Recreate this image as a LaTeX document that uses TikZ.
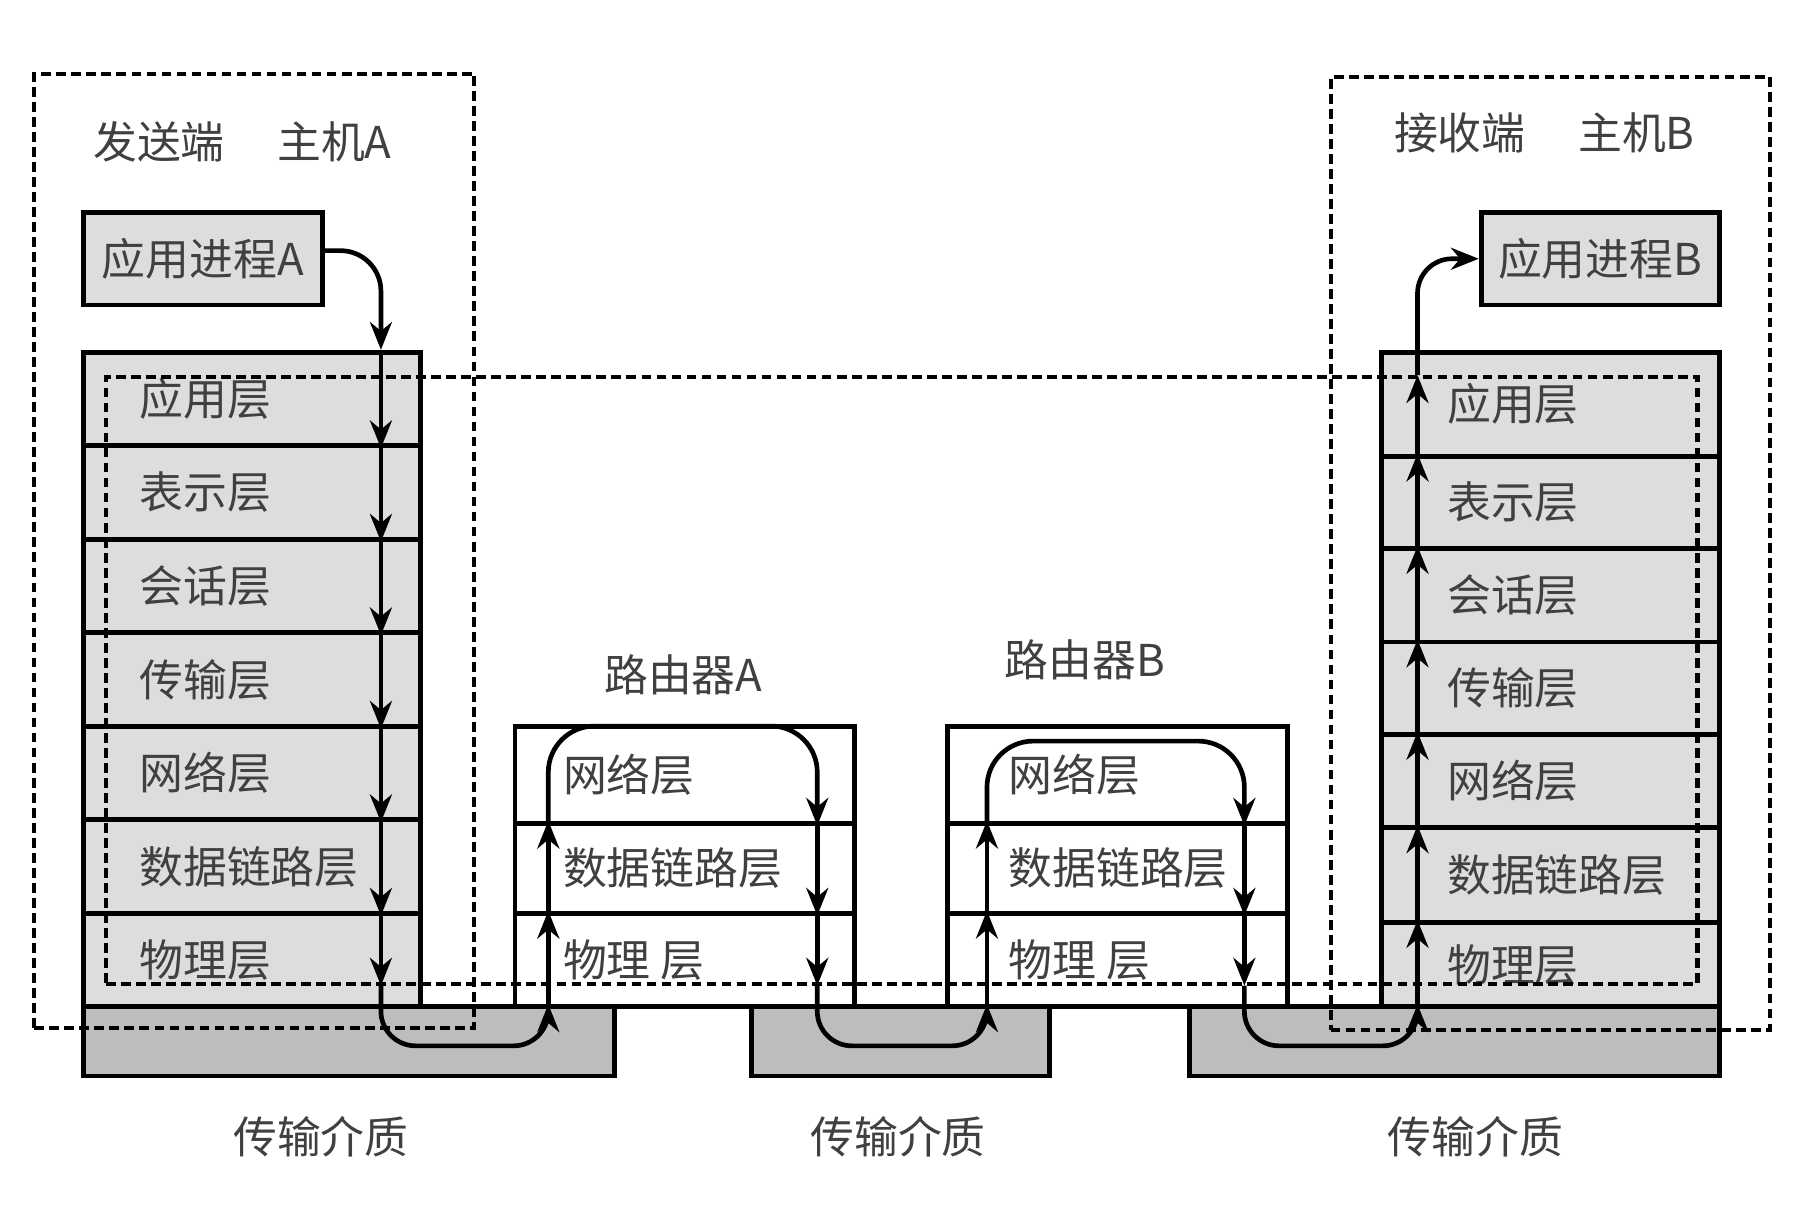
\documentclass[tikz,border=0pt]{standalone}
\usepackage{fontspec}
\newfontfamily\cjk{Noto Sans CJK SC}
\usetikzlibrary{arrows.meta, positioning, calc}

\tikzset{
  box/.style={draw, line width=1.2pt, inner sep=0pt, anchor=north west},
  layer/.style={box, fill=gray!27, minimum width=2.92cm},
  rlayer/.style={box, fill=white, minimum width=2.94cm},
  medium/.style={box, fill=gray!52, minimum height=0.6cm},
  dashbox/.style={draw, line width=1pt, dash pattern=on 2.4pt off 1.3pt, inner sep=0pt, anchor=north west},
  txt/.style={font=\cjk\fontsize{10.8}{13}\selectfont, text=black!75, inner sep=0pt},
  flow/.style={line width=1.15pt, -{Stealth[length=2.4mm, width=1.9mm]}},
  wire/.style={line width=1.15pt, rounded corners=0.3cm},
}

\begin{document}
\begin{tikzpicture}[x=0.01cm, y=-0.01cm]
    \useasboundingbox (0,0) rectangle (1568,1059);

    % Transmission media
    \node[medium, minimum width=4.60cm] (m1) at (70,870) {};
    \node[medium, minimum width=2.58cm] (m2) at (649,870) {};
    \node[medium, minimum width=4.59cm] (m3) at (1028,870) {};
    \node[txt] (mt1) at (278,985) {传输介质};
    \node[txt] (mt2) at (778,985) {传输介质};
    \node[txt] (mt3) at (1278,985) {传输介质};

    % Host A
    \node[txt, anchor=west] (ta) at (80,123) {发送端\hspace{1.2em}主机A};
    \node[box, fill=gray!27, minimum width=2.07cm, minimum height=0.80cm, txt] (pa) at (70,182) {应用进程A};
    \foreach \n/\t [count=\i from 0] in {a1/应用层, a2/表示层, a3/会话层, a4/传输层, a5/网络层, a6/数据链路层, a7/物理层} {
        \node[layer, minimum height=0.81cm] (\n) at (70,{303+81*\i}) {};
        \node[txt, right=0.5cm of \n.west] (\n t) {\t};
    }

    % Routers
    \node[txt] (tra) at (592,585) {路由器A};
    \node[txt] (trb) at (940,572) {路由器B};
    \foreach \n/\t/\y/\h in {ra1/网络层/627/0.84, ra2/数据链路层/711/0.78, ra3/物理 层/789/0.81} {
        \node[rlayer, minimum height=\h cm] (\n) at (444,\y) {};
        \node[txt, right=0.43cm of \n.west] (\n t) {\t};
    }
    \foreach \n/\t/\y/\h in {rb1/网络层/627/0.84, rb2/数据链路层/711/0.78, rb3/物理 层/789/0.81} {
        \node[rlayer, minimum height=\h cm] (\n) at (819,\y) {};
        \node[txt, right=0.54cm of \n.west] (\n t) {\t};
    }

    % Host B
    \node[txt, anchor=west] (tb) at (1207,115) {接收端\hspace{1.2em}主机B};
    \node[box, fill=gray!27, minimum width=2.06cm, minimum height=0.80cm, txt] (pb) at (1281,182) {应用进程B};
    \foreach \n/\t/\y/\h in {b1/应用层/303/0.90, b2/表示层/393/0.80, b3/会话层/473/0.81, b4/传输层/554/0.80, b5/网络层/634/0.81, b6/数据链路层/715/0.82, b7/物理层/797/0.73} {
        \node[layer, minimum height=\h cm] (\n) at (1195,\y) {};
        \node[txt, right=0.58cm of \n.west] (\n t) {\t};
    }

    % Dashed frames
    \node[dashbox, minimum width=3.81cm, minimum height=8.26cm] (hostA) at (28,62) {};
    \node[dashbox, minimum width=3.80cm, minimum height=8.25cm] (hostB) at (1151,65) {};
    \node[dashbox, minimum width=13.78cm, minimum height=5.25cm] (proto) at (90,325) {};

    % Path of the data
    \coordinate (xa) at (330,0);
    \coordinate (xr1) at (475,0);
    \coordinate (xr2) at (708,0);
    \coordinate (xr3) at (855,0);
    \coordinate (xr4) at (1078,0);
    \coordinate (xb) at (1228,0);
    \coordinate (ylow) at (0,906);
    \coordinate (ytopA) at (0,629);
    \coordinate (ytopB) at (0,642);

    % down through host A
    \draw[flow, wire, rounded corners=0.35cm] ([yshift=0.07cm]pa.east) -| (a1.north -| xa);
    \foreach \n in {a1,a2,a3,a4,a5,a6}
        \draw[flow] (\n.north -| xa) -- (\n.south -| xa);
    \draw[flow] (a7.north -| xa) -- (proto.south -| xa);
    \draw[flow, wire] (proto.south -| xa) -- (xa |- ylow) -- (xr1 |- ylow) -- (m1.north -| xr1);

    % router A
    \draw[flow] (m1.north -| xr1) -- (ra3.north -| xr1);
    \draw[flow] (ra2.south -| xr1) -- (ra2.north -| xr1);
    \draw[flow, wire, rounded corners=0.4cm] (ra2.north -| xr1) -- (xr1 |- ytopA) -- (xr2 |- ytopA) -- (ra1.south -| xr2);
    \draw[flow] (ra2.north -| xr2) -- (ra2.south -| xr2);
    \draw[flow] (ra3.north -| xr2) -- (proto.south -| xr2);
    \draw[flow, wire] (proto.south -| xr2) -- (xr2 |- ylow) -- (xr3 |- ylow) -- (m2.north -| xr3);

    % router B
    \draw[flow] (m2.north -| xr3) -- (rb3.north -| xr3);
    \draw[flow] (rb2.south -| xr3) -- (rb2.north -| xr3);
    \draw[flow, wire, rounded corners=0.4cm] (rb2.north -| xr3) -- (xr3 |- ytopB) -- (xr4 |- ytopB) -- (rb1.south -| xr4);
    \draw[flow] (rb2.north -| xr4) -- (rb2.south -| xr4);
    \draw[flow] (rb3.north -| xr4) -- (proto.south -| xr4);
    \draw[flow, wire] (proto.south -| xr4) -- (xr4 |- ylow) -- (xb |- ylow) -- (m3.north -| xb);

    % up through host B
    \draw[flow] (m3.north -| xb) -- (b7.north -| xb);
    \foreach \n in {b6,b5,b4,b3,b2}
        \draw[flow] (\n.south -| xb) -- (\n.north -| xb);
    \draw[flow] (b1.south -| xb) -- (proto.north -| xb);
    \draw[flow, wire] (proto.north -| xb) |- (pb.west);
\end{tikzpicture}
\end{document}
